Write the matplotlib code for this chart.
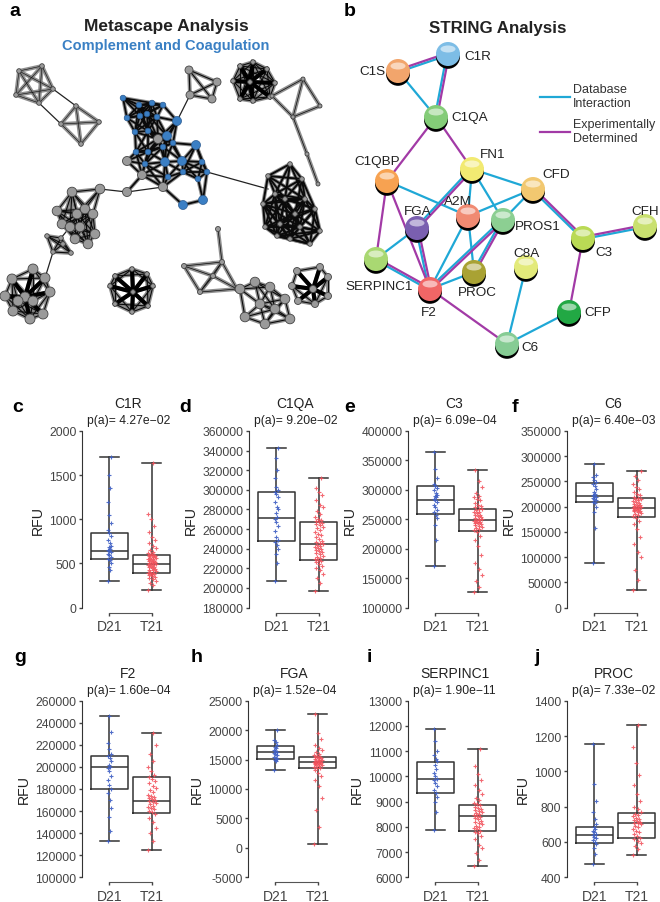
import matplotlib.pyplot as plt
import numpy as np
from matplotlib.patches import Circle, Ellipse

plt.rcParams['font.family'] = ['Liberation Sans', 'DejaVu Sans']

# ---------------- panel a: Metascape network (pixel coordinates) ----------------
pent_x, pent_y = [19, 42, 53, 39, 16], [72, 67, 90, 104, 96]
sq_x, sq_y = [76, 99, 81, 61], [107, 123, 145, 125]
topc_x, topc_y = [189, 217, 212, 190], [71, 83, 100, 96]
topr_x, topr_y = [250, 233, 240, 253, 267, 275, 270, 253, 240], [83, 82, 67, 63, 70, 84, 98, 102, 100]
trsq_x, trsq_y = [272, 303, 320, 293, 307, 318], [97, 80, 107, 118, 155, 185]
blue_x = [123, 139, 152, 163, 127, 140, 147, 157, 177, 135, 148, 167, 173, 163, 196, 136, 148, 165,
          145, 182, 202, 183, 207, 168, 198, 183, 203]
blue_y = [99, 106, 104, 106, 119, 117, 115, 118, 122, 133, 132, 137, 144, 148, 146, 153, 153, 163,
          165, 162, 163, 173, 173, 178, 180, 206, 201]
cgray_x, cgray_y = [127, 142, 127, 163, 158], [162, 176, 193, 188, 140]
right_x = [268, 290, 302, 305, 320, 310, 290, 277, 265, 263, 275, 285, 295, 280, 300, 315]
right_y = [177, 165, 180, 200, 232, 245, 240, 237, 228, 205, 195, 200, 215, 225, 228, 210]
lmid_x = [72, 100, 57, 62, 77, 85, 93, 95, 88, 75, 70, 80]
lmid_y = [193, 190, 212, 225, 215, 210, 215, 235, 245, 240, 228, 228]
small_x, small_y = [47, 61, 71, 53, 63], [237, 239, 254, 253, 245]
bl_x = [25, 12, 33, 45, 50, 43, 30, 13, 5, 33, 18]
bl_y = [298, 280, 270, 279, 293, 315, 320, 312, 297, 302, 302]
bc_x = [133, 115, 132, 147, 153, 148, 132, 115, 110]
bc_y = [293, 277, 270, 275, 287, 307, 313, 305, 287]
bg_x, bg_y = [218, 184, 200, 222, 237, 213], [230, 267, 293, 263, 290, 277]
brg_x = [240, 255, 270, 285, 290, 265, 245, 260, 275]
brg_y = [290, 283, 288, 300, 320, 325, 318, 305, 310]
brs_x = [313, 297, 320, 328, 328, 315, 298, 292]
brs_y = [290, 272, 268, 278, 297, 305, 302, 287]
links = [((53, 90), (76, 107)), ((39, 104), (61, 125)), ((100, 190), (127, 193)), ((45, 279), (53, 253)),
         ((61, 239), (70, 228)), ((207, 173), (268, 190)), ((177, 122), (190, 96)), ((237, 290), (240, 290)),
         ((127, 193), (163, 188))]

# ---------------- panel b: STRING network ----------------
string_names = ['C1S', 'C1R', 'C1QA', 'C1QBP', 'FN1', 'CFD', 'A2M', 'FGA', 'PROS1', 'CFH', 'C3',
                'SERPINC1', 'C8A', 'PROC', 'F2', 'CFP', 'C6']
string_x = [398, 448, 436, 387, 472, 533, 468, 417, 503, 645, 583, 376, 526, 474, 430, 569, 507]
string_y = [72, 55, 118, 182, 170, 190, 217, 229, 221, 227, 239, 260, 268, 273, 290, 313, 345]
string_colors = ['#f2a56c', '#7dbde6', '#84cc78', '#f7a251', '#f2ea72', '#f2c870', '#f08a72', '#7a5fb0',
                 '#8ccf92', '#c9e06f', '#bada55', '#a9d872', '#e3ea7a', '#a9a233', '#f06666', '#22a844', '#86cc94']
db_edges = [('C1S', 'C1R'), ('C1S', 'C1QA'), ('C1R', 'C1QA'), ('C1QBP', 'A2M'), ('FN1', 'FGA'), ('FN1', 'CFD'),
            ('FN1', 'A2M'), ('FN1', 'PROS1'), ('CFD', 'A2M'), ('CFD', 'PROS1'), ('CFD', 'C3'), ('A2M', 'PROC'),
            ('A2M', 'F2'), ('FGA', 'SERPINC1'), ('FGA', 'F2'), ('PROS1', 'F2'), ('PROS1', 'PROC'),
            ('SERPINC1', 'F2'), ('C3', 'CFH'), ('C8A', 'C6'), ('CFP', 'C6'), ('PROC', 'F2')]
exp_edges = [('C1S', 'C1R'), ('C1R', 'C1QA'), ('C1QA', 'C1QBP'), ('C1QA', 'FN1'), ('C1QBP', 'SERPINC1'),
             ('C1QBP', 'F2'), ('FN1', 'FGA'), ('CFD', 'C3'), ('FGA', 'F2'), ('PROS1', 'F2'), ('PROS1', 'PROC'),
             ('SERPINC1', 'F2'), ('F2', 'C6'), ('C3', 'CFH'), ('C3', 'CFP')]
label_pos = {'C1S': (385, 72, 'right'), 'C1R': (464, 57, 'left'), 'C1QA': (451, 118, 'left'),
             'C1QBP': (377, 162, 'center'), 'FN1': (493, 155, 'center'), 'CFD': (556, 175, 'center'),
             'A2M': (458, 202, 'center'), 'FGA': (418, 212, 'center'), 'PROS1': (538, 227, 'center'),
             'CFH': (645, 212, 'center'), 'C3': (604, 253, 'center'), 'SERPINC1': (379, 287, 'center'),
             'C8A': (527, 254, 'center'), 'PROC': (477, 293, 'center'), 'F2': (429, 313, 'center'),
             'CFP': (598, 313, 'center'), 'C6': (530, 348, 'center')}

# ---------------- panels c-j: RFU values ----------------
genes = ['C1R', 'C1QA', 'C3', 'C6', 'F2', 'FGA', 'SERPINC1', 'PROC']
letters = ['c', 'd', 'e', 'f', 'g', 'h', 'i', 'j']
pvals = ['4.27e\u221202', '9.20e\u221202', '6.09e\u221204', '6.40e\u221203',
         '1.60e\u221204', '1.52e\u221204', '1.90e\u221211', '7.33e\u221202']
ylims = [(0, 2000, 500), (180000, 360000, 20000), (100000, 400000, 50000), (0, 350000, 50000),
         (100000, 260000, 20000), (-5000, 25000, 5000), (6000, 13000, 1000), (400, 1400, 200)]

# box stats: whisker low, q1, median, q3, whisker high
d21_box = [(298, 547, 644, 844, 1711), (207000, 248000, 271500, 298000, 342700),
           (171300, 258200, 282800, 305700, 365000), (89100, 209300, 221200, 247600, 284600),
           (132700, 179700, 199700, 210200, 246400), (13230, 15170, 16250, 17270, 20000),
           (7874, 9353, 9885, 10570, 11878), (474, 596, 641, 684, 1156)]
t21_box = [(200, 392, 497, 595, 1643), (196900, 228400, 244400, 267000, 312200),
           (125800, 230300, 248400, 267900, 333100), (34300, 180300, 197500, 216500, 270800),
           (125000, 158500, 168800, 191000, 230500), (680, 13640, 14600, 15450, 22780),
           (6460, 7835, 8441, 8877, 11085), (524, 624, 707, 762, 1262)]

c1r_d21 = [298, 420, 455, 505, 540, 555, 570, 590, 610, 625, 640, 650, 660, 680, 700, 730, 770, 810, 845,
           880, 960, 1050, 1200, 1350, 1500, 1711]
c1r_t21 = [200, 250, 280, 300, 320, 335, 350, 360, 370, 380, 385, 390, 395, 400, 410, 420, 430, 440, 450,
           455, 460, 470, 480, 485, 490, 495, 500, 505, 510, 520, 525, 530, 540, 545, 550, 560, 565, 570,
           580, 585, 590, 595, 600, 610, 620, 630, 650, 670, 700, 730, 760, 800, 850, 920, 1000, 1060, 1643]
c1qa_d21 = [207, 225, 235, 240, 244, 247, 249, 252, 258, 263, 267, 270, 272, 276, 280, 283, 288, 293, 296,
            298, 300, 303, 312, 320, 332, 342.7]
c1qa_t21 = [197, 205, 210, 214, 218, 220, 222, 224, 226, 227, 228, 229, 230, 232, 233, 235, 236, 237, 238,
            239, 240, 241, 242, 243, 244, 245, 246, 247, 248, 250, 252, 254, 255, 257, 259, 261, 262, 264,
            265, 266, 267, 268, 269, 270, 272, 275, 278, 282, 285, 290, 295, 298, 302, 312]
c3_d21 = [171, 215, 240, 252, 258, 262, 265, 270, 275, 280, 283, 285, 288, 290, 292, 295, 300, 303, 306,
          310, 320, 335, 365]
c3_t21 = [126, 135, 145, 155, 165, 175, 190, 205, 215, 222, 228, 231, 233, 235, 237, 239, 240, 242, 243,
          244, 245, 246, 247, 248, 249, 250, 251, 252, 253, 255, 257, 258, 260, 262, 263, 265, 267, 268,
          270, 272, 275, 278, 282, 285, 288, 290, 295, 305, 315, 333]
c6_d21 = [89, 158, 190, 200, 207, 210, 213, 216, 218, 220, 221, 223, 226, 230, 235, 240, 245, 248, 252,
          258, 263, 285]
c6_t21 = [34, 55, 75, 100, 110, 125, 140, 155, 165, 172, 178, 181, 184, 186, 188, 190, 191, 192, 193, 194,
          195, 196, 197, 198, 199, 200, 201, 202, 203, 204, 205, 207, 209, 211, 213, 215, 216, 218, 220,
          223, 226, 230, 235, 238, 245, 252, 260, 271]
f2_d21 = [132.7, 142, 155, 163, 170, 176, 180, 184, 188, 192, 196, 199, 200, 202, 205, 208, 210, 212, 216,
          222, 232, 246.4]
f2_t21 = [125, 133, 140, 145, 150, 154, 157, 159, 160, 162, 163, 164, 165, 166, 167, 168, 169, 170, 171,
          172, 173, 174, 175, 177, 179, 181, 183, 185, 187, 189, 191, 193, 196, 200, 205, 212, 220, 230.5]
fga_d21 = [13230, 14800, 15000, 15100, 15200, 15500, 15800, 16000, 16200, 16300, 16400, 16600, 16900,
           17200, 17400, 18000, 18300, 20000]
fga_t21 = [680, 3500, 6500, 8500, 10500, 11500, 12200, 12800, 13200, 13500, 13650, 13800, 13900, 14000,
           14100, 14200, 14300, 14400, 14450, 14500, 14550, 14600, 14650, 14700, 14800, 14900, 15000, 15100,
           15200, 15300, 15400, 15450, 15600, 15800, 16000, 16300, 16600, 17000, 17500, 18500, 19500, 22780]
serp_d21 = [7874, 8600, 9000, 9200, 9350, 9450, 9600, 9750, 9850, 9900, 10000, 10150, 10300, 10450, 10600,
            10700, 10850, 11000, 11400, 11878]
serp_t21 = [6460, 6700, 6950, 7150, 7300, 7500, 7650, 7750, 7800, 7850, 7900, 7950, 8000, 8050, 8100,
            8150, 8200, 8250, 8300, 8350, 8400, 8440, 8480, 8520, 8560, 8600, 8640, 8680, 8720, 8760, 8800,
            8850, 8900, 8950, 9050, 9150, 9300, 9450, 9650, 9850, 10100, 10400, 11085]
proc_d21 = [474, 530, 565, 590, 600, 610, 620, 630, 640, 648, 655, 665, 675, 685, 700, 730, 770, 830, 930, 1156]
proc_t21 = [524, 560, 580, 595, 605, 615, 625, 635, 645, 655, 665, 675, 685, 692, 700, 705, 710, 715, 720,
            725, 730, 738, 745, 752, 760, 770, 785, 800, 830, 870, 920, 980, 1050, 1140, 1262]

points = [(c1r_d21, c1r_t21, 1), (c1qa_d21, c1qa_t21, 1000), (c3_d21, c3_t21, 1000), (c6_d21, c6_t21, 1000),
          (f2_d21, f2_t21, 1000), (fga_d21, fga_t21, 1), (serp_d21, serp_t21, 1), (proc_d21, proc_t21, 1)]

W, H = 660, 903
fig = plt.figure(figsize=(W / 100, H / 100), dpi=100)

# overlay axes in pixel units for the two networks
net = fig.add_axes([0, 0, 1, 1])
net.set_xlim(0, W)
net.set_ylim(H, 0)
net.axis('off')


def draw_cluster(xs, ys, r, dmax, hub=False, color='#9a9a9a', dark=0.8):
    xs, ys = np.asarray(xs, float), np.asarray(ys, float)
    n = len(xs)
    for i in range(n):
        for j in range(i + 1, n):
            d = np.hypot(xs[i] - xs[j], ys[i] - ys[j])
            if d > dmax:
                continue
            net.plot([xs[i], xs[j]], [ys[i], ys[j]], color='#7c7c7c', lw=2.8, alpha=0.85,
                     solid_capstyle='round', zorder=1)
            net.plot([xs[i], xs[j]], [ys[i], ys[j]], color='#0a0a0a', lw=dark, zorder=2)
    if hub:
        for j in range(1, n):
            net.plot([xs[0], xs[j]], [ys[0], ys[j]], color='#000000', lw=3, zorder=2)
    for x, y in zip(xs, ys):
        net.add_patch(Circle((x, y), r, facecolor=color, edgecolor='#444444', lw=0.6, zorder=3))


for a, b in links:
    net.plot([a[0], b[0]], [a[1], b[1]], color='#222222', lw=0.9, zorder=1)

draw_cluster(pent_x, pent_y, 2.3, 40, dark=0.4)
draw_cluster(sq_x, sq_y, 2.3, 45, dark=0.4)
draw_cluster(topc_x, topc_y, 4, 40)
draw_cluster(topr_x, topr_y, 2.3, 40, hub=True)
draw_cluster(trsq_x[:4], trsq_y[:4], 2, 40, dark=0.5)
draw_cluster(trsq_x[3:], trsq_y[3:], 2, 40, dark=0.5)
draw_cluster(cgray_x + blue_x, cgray_y + blue_y, 0, 30, dark=1.3)
draw_cluster(cgray_x, cgray_y, 4.5, 0)
for i, (x, y) in enumerate(zip(blue_x, blue_y)):
    rr = 4.5 if i in (8, 11, 14, 17, 19, 25, 26) else 2.8
    net.add_patch(Circle((x, y), rr, facecolor='#3b7fc4', edgecolor='#2a5a90', lw=0.5, zorder=4))
draw_cluster(right_x, right_y, 2.3, 45, dark=1.4)
draw_cluster(lmid_x, lmid_y, 4.8, 40)
draw_cluster(small_x, small_y, 2.3, 30)
draw_cluster(bl_x, bl_y, 5, 35, hub=True)
draw_cluster(bc_x, bc_y, 2.3, 35, hub=True)
draw_cluster(bg_x, bg_y, 2.5, 45, dark=0.5)
draw_cluster(brg_x, brg_y, 4.8, 35)
draw_cluster(brs_x, brs_y, 3.5, 30, hub=True)

fig.text(15 / W, 1 - 12 / H, 'a', fontsize=14, fontweight='bold', ha='center', va='center')
fig.text(166 / W, 1 - 27 / H, 'Metascape Analysis', fontsize=12.5, fontweight='bold', ha='center',
         va='center', color='#222222')
fig.text(166 / W, 1 - 46 / H, 'Complement and Coagulation', fontsize=10.5, fontweight='bold', ha='center',
         va='center', color='#3a80c4')

# STRING network
idx = {n: i for i, n in enumerate(string_names)}


def edge(a, b, color, off):
    x1, y1 = string_x[idx[a]], string_y[idx[a]]
    x2, y2 = string_x[idx[b]], string_y[idx[b]]
    d = np.hypot(x2 - x1, y2 - y1)
    nx, ny = -(y2 - y1) / d * off, (x2 - x1) / d * off
    net.plot([x1 + nx, x2 + nx], [y1 + ny, y2 + ny], color=color, lw=1.6, zorder=5)


exp_set = set(exp_edges)
db_set = set(db_edges)
for a, b in db_edges:
    edge(a, b, '#1fa8d6', 1.1 if (a, b) in exp_set else 0)
for a, b in exp_edges:
    edge(a, b, '#a23aa6', -1.1 if (a, b) in db_set else 0)

for name, x, y, c in zip(string_names, string_x, string_y, string_colors):
    net.add_patch(Circle((x, y + 2.8), 12, facecolor='#000000', zorder=6))
    net.add_patch(Circle((x, y), 12, facecolor=c, edgecolor='none', zorder=7))
    net.add_patch(Ellipse((x, y - 5), 15, 7, facecolor='white', alpha=0.55, edgecolor='none', zorder=8))
    lx, ly, ha = label_pos[name]
    net.text(lx, ly, name, fontsize=9.7, ha=ha, va='center', color='#222222', zorder=9)

net.plot([540, 570], [98, 98], color='#1fa8d6', lw=1.6)
net.plot([540, 570], [133, 133], color='#a23aa6', lw=1.6)
net.text(573, 97, 'Database\nInteraction', fontsize=9, va='center', ha='left', color='#333333',
         linespacing=1.15)
net.text(573, 132, 'Experimentally\nDetermined', fontsize=9, va='center', ha='left', color='#333333',
         linespacing=1.15)
fig.text(350 / W, 1 - 12 / H, 'b', fontsize=14, fontweight='bold', ha='center', va='center')
fig.text(498 / W, 1 - 28 / H, 'STRING Analysis', fontsize=12.2, fontweight='bold', ha='center',
         va='center', color='#222222')

# ---------------- boxplots ----------------
lefts = [82, 249, 408, 567, 82, 248, 408, 567]
tops = [432, 432, 432, 432, 701.7, 701.7, 701.7, 701.7]
bots = [608.5, 608.5, 608.5, 608.5, 878.3, 878.3, 878.3, 878.3]
letter_x = [18, 185, 350, 515, 20, 197, 369, 537]
letter_y = [408, 408, 408, 408, 658, 658, 658, 658]
axw = 93


def spread(n, w):
    k = np.arange(n)
    return ((k * 7) % 11 - 5) / 5.0 * w


for i in range(8):
    ax = fig.add_axes([lefts[i] / W, 1 - bots[i] / H, axw / W, (bots[i] - tops[i]) / H])
    lo, hi, step = ylims[i]
    stats = []
    for bx, lab in zip((d21_box[i], t21_box[i]), ('D21', 'T21')):
        stats.append(dict(whislo=bx[0], q1=bx[1], med=bx[2], q3=bx[3], whishi=bx[4], label=lab))
    ax.bxp(stats, positions=[0, 1], widths=0.87, capwidths=0.45, showfliers=False,
           boxprops=dict(color='#333333', lw=1.1), medianprops=dict(color='#333333', lw=1.1),
           whiskerprops=dict(color='#333333', lw=1.1), capprops=dict(color='#333333', lw=1.1))
    d21, t21, scale = points[i]
    d21 = np.asarray(d21) * scale
    t21 = np.asarray(t21) * scale
    ax.plot(spread(len(d21), 0.045), d21, '+', color='#3f5fc4', ms=2.6, mew=0.8, alpha=0.9, zorder=4)
    ax.plot(1 + spread(len(t21), 0.09), t21, '+', color='#f2505a', ms=2.6, mew=0.8, alpha=0.85, zorder=4)
    ax.set_xlim(-0.65, 1.55)
    ax.set_ylim(lo, hi)
    ticks = np.arange(lo, hi + step / 2, step)
    ax.set_yticks(ticks)
    ax.set_yticklabels([str(int(t)) for t in ticks], fontsize=8.7, color='#333333')
    ax.set_xticks([0, 1])
    ax.set_xticklabels(['D21', 'T21'], fontsize=10.2, color='#222222')
    for s in ('top', 'right'):
        ax.spines[s].set_visible(False)
    ax.spines['left'].set_color('#333333')
    ax.spines['bottom'].set_color('#555555')
    ax.spines['bottom'].set_bounds(0, 1)
    ax.spines['bottom'].set_position(('outward', 3.6))
    ax.tick_params(axis='both', direction='out', length=2.5, width=1, colors='#444444', pad=1.5)
    ax.tick_params(axis='x', pad=2)
    ax.set_ylabel('RFU', fontsize=10.2, color='#222222', labelpad=3)
    ax.patch.set_alpha(0)
    cx = (lefts[i] + axw / 2) / W
    fig.text(cx, 1 - (tops[i] - 28) / H, genes[i], fontsize=10, ha='center', va='center', color='#222222')
    fig.text(cx, 1 - (tops[i] - 11) / H, 'p(a)= ' + pvals[i], fontsize=8.7, ha='center', va='center',
             color='#222222')
    fig.text(letter_x[i] / W, 1 - letter_y[i] / H, letters[i], fontsize=14, fontweight='bold',
             ha='center', va='center')

fig.savefig('out.png', dpi=100)
